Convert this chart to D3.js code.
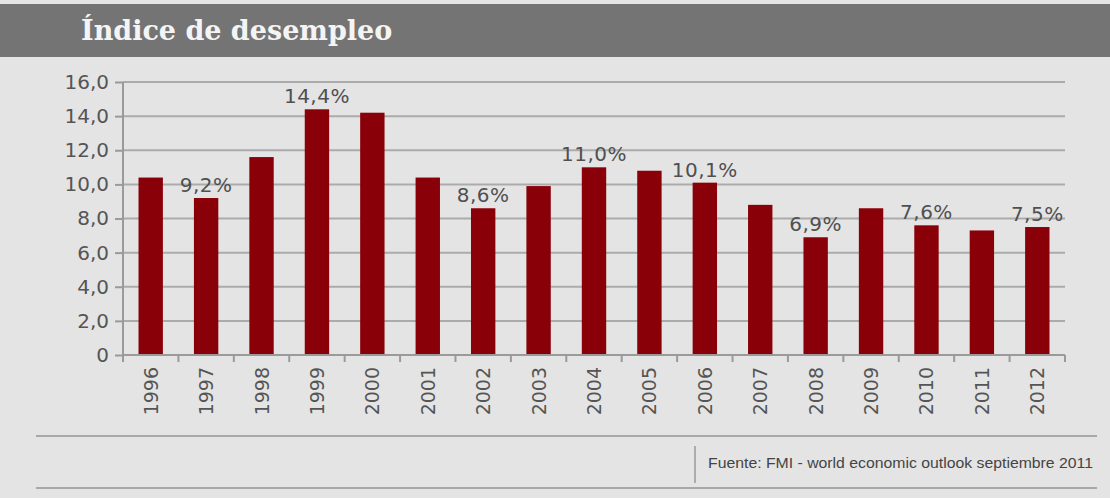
<!DOCTYPE html>
<meta charset="utf-8">
<script src="https://d3js.org/d3.v7.min.js"></script>
<style>
body { margin: 0; background: #e4e4e4; }
text { font-family: "DejaVu Sans", sans-serif; }
.grid line { stroke: #ababab; stroke-width: 2px; }
.axis path, .axis line { stroke: #9a9a9a; stroke-width: 2px; }
.axis text { fill: #555; font-size: 20px; }
</style>
<body>
<div id="chart"></div>
</body>
<script>

// data
const years = ["1996","1997","1998","1999","2000","2001","2002","2003","2004",
	"2005","2006","2007","2008","2009","2010","2011","2012"];
const unemployment = [10.4, 9.2, 11.6, 14.4, 14.2, 10.4, 8.6, 9.9, 11.0,
	10.8, 10.1, 8.8, 6.9, 8.6, 7.6, 7.3, 7.5];
const labeledYears = ["1997","1999","2002","2004","2006","2008","2010","2012"];
const yTicks = [0, 2, 4, 6, 8, 10, 12, 14, 16];

const title = "Índice de desempleo";
const source = "Fuente: FMI - world economic outlook septiembre 2011";

const W = 1110, H = 498;
const margin = {top: 82, right: 45, bottom: 143, left: 123},
	width = W - margin.left - margin.right,
	height = H - margin.top - margin.bottom;

const svg = d3.select("#chart")
	.append("svg")
	.attr("width", W)
	.attr("height", H);

svg.append("rect")
	.attr("width", W).attr("height", H)
	.attr("fill", "#e4e4e4");

// title band
svg.append("rect")
	.attr("x", 0).attr("y", 4)
	.attr("width", W).attr("height", 53)
	.attr("fill", "#747474");
svg.append("text")
	.attr("x", 81).attr("y", 40)
	.style("font-family", "'DejaVu Serif', serif")
	.style("font-weight", "bold")
	.style("font-size", "27px")
	.attr("fill", "#f4f4f4")
	.text(title);

const g = svg.append("g")
	.attr("transform", `translate(${margin.left},${margin.top})`);

const x = d3.scaleBand()
	.domain(years)
	.range([0, width])
	.paddingInner(0.56)
	.paddingOuter(0.28);

const y = d3.scaleLinear()
	.domain([0, 16])
	.range([height, 0]);

const fmt = d => d === 0 ? "0" : d.toFixed(1).replace(".", ",");

// gridlines
g.append("g")
	.attr("class", "grid")
	.selectAll("line")
	.data(yTicks.filter(d => d > 0))
	.enter().append("line")
	.attr("x1", 0).attr("x2", width)
	.attr("y1", d => y(d)).attr("y2", d => y(d));

// y axis
const yAxis = g.append("g")
	.attr("class", "axis")
	.call(d3.axisLeft(y).tickValues(yTicks).tickFormat(fmt).tickSizeInner(8).tickSizeOuter(0).tickPadding(6));
yAxis.select(".domain").attr("d", `M0,0V${height + 7}`);

// bars
g.selectAll("rect.bar")
	.data(years)
	.enter().append("rect")
	.attr("class", "bar")
	.attr("x", d => x(d))
	.attr("width", x.bandwidth())
	.attr("y", (d, i) => y(unemployment[i]))
	.attr("height", (d, i) => height - y(unemployment[i]))
	.attr("fill", "#8a0009");

// x axis: ticks sit on the band edges
const xAxis = g.append("g")
	.attr("class", "axis")
	.attr("transform", `translate(0,${height})`);
xAxis.append("path")
	.attr("d", `M0,0H${width}`);
xAxis.selectAll("line")
	.data(d3.range(years.length + 1))
	.enter().append("line")
	.attr("x1", i => i * x.step()).attr("x2", i => i * x.step())
	.attr("y1", 0).attr("y2", 7);
xAxis.selectAll("text")
	.data(years)
	.enter().append("text")
	.attr("transform", d => `translate(${x(d) + x.bandwidth() / 2 + 7},12) rotate(-90)`)
	.attr("text-anchor", "end")
	.style("font-size", "19px")
	.text(d => d);

// value labels
g.selectAll("text.value")
	.data(years.filter(d => labeledYears.includes(d)))
	.enter().append("text")
	.attr("class", "value")
	.attr("x", d => x(d) + x.bandwidth() / 2)
	.attr("y", d => y(unemployment[years.indexOf(d)]) - 6)
	.attr("text-anchor", "middle")
	.attr("fill", "#505050")
	.style("font-size", "20px")
	.style("letter-spacing", "0.5px")
	.text(d => unemployment[years.indexOf(d)].toFixed(1).replace(".", ",") + "%");

// footer
svg.append("line")
	.attr("x1", 36).attr("x2", 1097).attr("y1", 436).attr("y2", 436)
	.attr("stroke", "#a8a8a8").attr("stroke-width", 2);
svg.append("line")
	.attr("x1", 36).attr("x2", 1097).attr("y1", 488).attr("y2", 488)
	.attr("stroke", "#a8a8a8").attr("stroke-width", 2);
svg.append("line")
	.attr("x1", 695).attr("x2", 695).attr("y1", 446).attr("y2", 483)
	.attr("stroke", "#9a9a9a").attr("stroke-width", 1.5);
svg.append("text")
	.attr("x", 708).attr("y", 468)
	.style("font-family", "'Liberation Sans Narrow', 'Liberation Sans', sans-serif")
	.style("font-size", "14px")
	.attr("fill", "#444")
	.attr("textLength", 385)
	.attr("lengthAdjust", "spacingAndGlyphs")
	.text(source);

</script>
